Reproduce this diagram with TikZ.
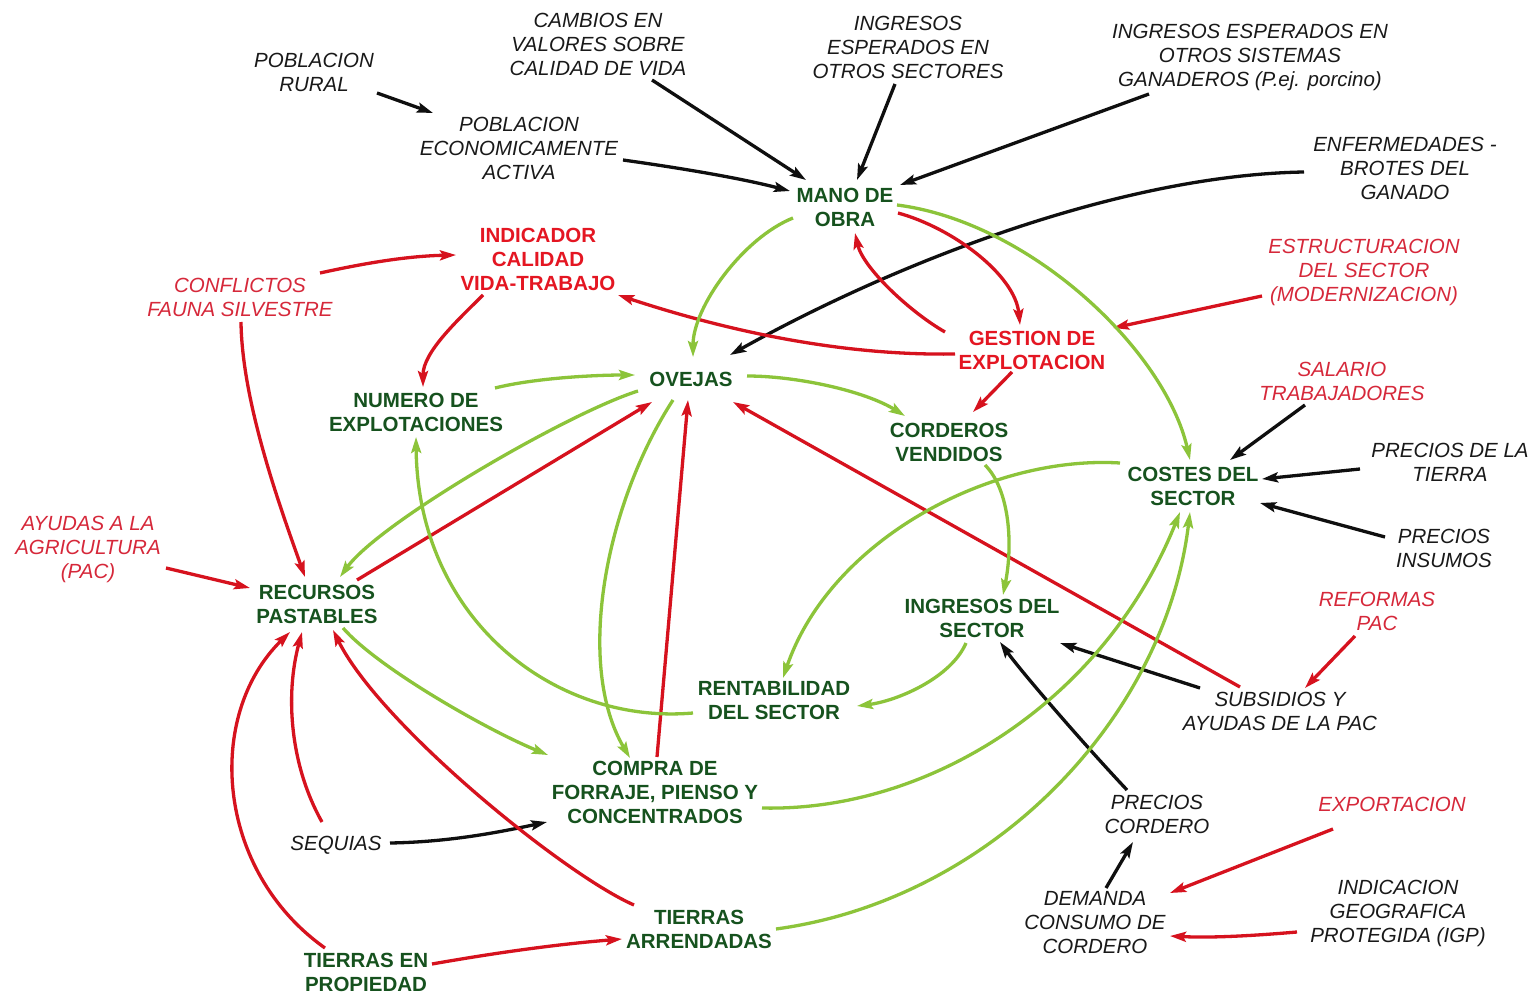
\documentclass[tikz,border=0pt]{standalone}
\usepackage{fontspec}
\setmainfont{Liberation Sans}
\usetikzlibrary{arrows.meta}

\definecolor{nodegreen}{RGB}{22,82,30}
\definecolor{nodered}{RGB}{228,22,34}
\definecolor{labelred}{RGB}{214,40,58}
\definecolor{labelblack}{RGB}{25,25,25}
\definecolor{linegreen}{RGB}{140,196,58}
\definecolor{linered}{RGB}{214,18,30}
\definecolor{lineblack}{RGB}{15,15,15}

% point at an offset from a node centre
\newcommand\nd[3]{([shift={(#2,#3)}]#1.center)}

\tikzset{
  lbl/.style={inner sep=0pt, align=center},
  gbold/.style={lbl, text=nodegreen, font=\fontsize{20.5}{24}\selectfont\bfseries},
  rbold/.style={lbl, text=nodered, font=\fontsize{20.5}{24}\selectfont\bfseries},
  kital/.style={lbl, text=labelblack, font=\fontsize{20.5}{24}\selectfont\itshape},
  rital/.style={lbl, text=labelred, font=\fontsize{20.5}{24}\selectfont\itshape},
  link/.style={line width=3.3pt, -{Stealth[length=16pt,width=10pt,inset=3pt]}},
  blk/.style={link, draw=lineblack},
  red/.style={link, draw=linered},
  grn/.style={link, draw=linegreen},
}

\begin{document}
\begin{tikzpicture}[x=1pt,y=-1pt]
\fill[white] (0,0) rectangle (1535,995);
\useasboundingbox (0,0) rectangle (1535,995);

% ---------- variables ----------
\node[kital] (prural)   at (314,72)   {POBLACION\\RURAL};
\node[kital] (cambios)  at (598,44)   {CAMBIOS EN\\VALORES SOBRE\\CALIDAD DE VIDA};
\node[kital] (ingsec)   at (908,47)   {INGRESOS\\ESPERADOS EN\\OTROS SECTORES};
\node[kital] (ingsis)   at (1250,57)  {INGRESOS ESPERADOS EN\\OTROS SISTEMAS\\GANADEROS (P.ej. porcino)};
\node[kital] (pea)      at (519,148)  {POBLACION\\ECONOMICAMENTE\\ACTIVA};
\node[kital] (enf)      at (1405,168) {ENFERMEDADES -\\BROTES DEL\\GANADO};
\node[gbold] (mano)     at (845,207)  {MANO DE\\OBRA};
\node[rbold] (indic)    at (538,259)  {INDICADOR\\CALIDAD\\VIDA-TRABAJO};
\node[rital] (confl)    at (240,297)  {CONFLICTOS\\FAUNA SILVESTRE};
\node[rital] (estr)     at (1364,272) {ESTRUCTURACION\\DEL SECTOR\\(MODERNIZACION)};
\node[rbold] (gest)     at (1032,350) {GESTION DE\\EXPLOTACION};
\node[gbold] (numero)   at (416,412)  {NUMERO DE\\EXPLOTACIONES};
\node[gbold] (ovejas)   at (691,379)  {OVEJAS};
\node[gbold] (cord)     at (949,442)  {CORDEROS\\VENDIDOS};
\node[rital] (salario)  at (1342,381) {SALARIO\\TRABAJADORES};
\node[gbold] (costes)   at (1193,486) {COSTES DEL\\SECTOR};
\node[kital] (ptierra)  at (1450,462) {PRECIOS DE LA\\TIERRA};
\node[kital] (pinsumos) at (1444,548) {PRECIOS\\INSUMOS};
\node[rital] (ayudas)   at (88,549)   {AYUDAS A LA\\AGRICULTURA\\(PAC)};
\node[gbold] (recursos) at (317,604)  {RECURSOS\\PASTABLES};
\node[gbold] (ingdel)   at (982,618)  {INGRESOS DEL\\SECTOR};
\node[rital] (reformas) at (1377,611) {REFORMAS\\PAC};
\node[gbold] (rentab)   at (774,701)  {RENTABILIDAD\\DEL SECTOR};
\node[kital] (subs)     at (1280,711) {SUBSIDIOS Y\\AYUDAS DE LA PAC};
\node[gbold] (compra)   at (655,792)  {COMPRA DE\\FORRAJE, PIENSO Y\\CONCENTRADOS};
\node[kital] (pcord)    at (1157,814) {PRECIOS\\CORDERO};
\node[rital] (export)   at (1392,804) {EXPORTACION};
\node[kital] (sequias)  at (336,845)  {SEQUIAS};
\node[kital] (demanda)  at (1095,923) {DEMANDA\\CONSUMO DE\\CORDERO};
\node[kital] (igp)      at (1398,913) {INDICACION\\GEOGRAFICA\\PROTEGIDA (IGP)};
\node[gbold] (tarr)     at (699,929)  {TIERRAS\\ARRENDADAS};
\node[gbold] (tprop)    at (366,972)  {TIERRAS EN\\PROPIEDAD};

% ---------- black influences ----------
\draw[blk] \nd{prural}{63}{21} -- \nd{pea}{-86}{-35};
\draw[blk] \nd{cambios}{54}{36} -- \nd{mano}{-39}{-27};
\draw[blk] \nd{pea}{104}{12} .. controls (680,168) and (740,178) .. \nd{mano}{-55}{-16};
\draw[blk] \nd{ingsec}{-13}{37} -- \nd{mano}{12}{-27};
\draw[blk] \nd{ingsis}{-101}{37} -- \nd{mano}{55}{-22};
\draw[blk] \nd{enf}{-101}{4} .. controls (1124,175) and (900,260) .. \nd{ovejas}{39}{-24};
\draw[blk] \nd{salario}{-37}{24} -- \nd{costes}{37}{-26};
\draw[blk] \nd{ptierra}{-90}{7} -- \nd{costes}{69}{-7};
\draw[blk] \nd{pinsumos}{-59}{-11} -- \nd{costes}{67}{17};
\draw[blk] \nd{subs}{-80}{-23} -- \nd{ingdel}{78}{25};
\draw[blk] \nd{pcord}{-30}{-24} .. controls (1080,740) and (1020,670) .. \nd{ingdel}{18}{24};
\draw[blk] \nd{demanda}{11}{-35} -- \nd{pcord}{-24}{28};
\draw[blk] \nd{sequias}{54}{-2} .. controls (450,842) and (500,832) .. \nd{compra}{-108}{30};

% ---------- red influences ----------
\draw[red] \nd{confl}{80}{-24} .. controls (370,262) and (410,256) .. \nd{indic}{-82}{-4};
\draw[red] \nd{confl}{1}{25} .. controls (242,402) and (280,507) .. \nd{recursos}{-12}{-27};
\draw[red] \nd{indic}{-55}{36} .. controls (458,320) and (423,352) .. \nd{numero}{7}{-25};
\draw[red] \nd{gest}{-77}{4} .. controls (835,356) and (718,328) .. \nd{indic}{80}{36};
\draw[red] \nd{gest}{-87}{-18} .. controls (910,312) and (863,268) .. \nd{mano}{10}{26};
\draw[red] \nd{mano}{53}{6} .. controls (953,228) and (1015,275) .. \nd{gest}{-12}{-25};
\draw[red] \nd{gest}{-20}{22} -- \nd{cord}{24}{-30};
\draw[red] \nd{estr}{-102}{24} -- \nd{gest}{81}{-22};
\draw[red] \nd{ayudas}{78}{19} -- \nd{recursos}{-67}{-16};
\draw[red] \nd{recursos}{40}{-24} -- \nd{ovejas}{-39}{23};
\draw[red] \nd{compra}{2}{-35} -- \nd{ovejas}{-3}{21};
\draw[red] \nd{subs}{-40}{-24} -- \nd{ovejas}{42}{23};
\draw[red] \nd{reformas}{-22}{25} -- \nd{subs}{25}{-23};
\draw[red] \nd{sequias}{-14}{-23} .. controls (290,765) and (285,695) .. \nd{recursos}{-15}{28};
\draw[red] \nd{tprop}{-41}{-24} .. controls (215,870) and (205,715) .. \nd{recursos}{-27}{28};
\draw[red] \nd{tarr}{-65}{-24} .. controls (565,875) and (380,725) .. \nd{recursos}{16}{26};
\draw[red] \nd{tprop}{66}{-8} .. controls (500,952) and (560,944) .. \nd{tarr}{-77}{10};
\draw[red] \nd{export}{-59}{25} -- \nd{demanda}{75}{-30};
\draw[red] \nd{igp}{-101}{19} .. controls (1250,936) and (1210,938) .. \nd{demanda}{75}{13};

% ---------- green influences ----------
\draw[grn] \nd{mano}{-52}{11} .. controls (743,238) and (693,307) .. \nd{ovejas}{2}{-22};
\draw[grn] \nd{mano}{52}{-2} .. controls (1030,222) and (1165,350) .. \nd{costes}{-3}{-26};
\draw[grn] \nd{numero}{79}{-24} .. controls (535,378) and (595,375) .. \nd{ovejas}{-56}{-4};
\draw[grn] \nd{ovejas}{56}{-3} .. controls (797,376) and (865,391) .. \nd{cord}{-44}{-26};
\draw[grn] \nd{ovejas}{-53}{12} .. controls (568,413) and (380,522) .. \nd{recursos}{23}{-27};
\draw[grn] \nd{ovejas}{-18}{21} .. controls (605,505) and (575,665) .. \nd{compra}{-25}{-34};
\draw[grn] \nd{rentab}{-81}{12} .. controls (555,725) and (418,620) .. \nd{numero}{0}{25};
\draw[grn] \nd{cord}{36}{23} .. controls (1010,490) and (1013,545) .. \nd{ingdel}{21}{-23};
\draw[grn] \nd{costes}{-73}{-23} .. controls (990,455) and (830,540) .. \nd{rentab}{9}{-23};
\draw[grn] \nd{ingdel}{-16}{25} .. controls (951,678) and (897,701) .. \nd{rentab}{83}{5};
\draw[grn] \nd{recursos}{26}{24} .. controls (378,668) and (487,730) .. \nd{compra}{-107}{-37};
\draw[grn] \nd{compra}{107}{16} .. controls (930,812) and (1105,700) .. \nd{costes}{-13}{26};
\draw[grn] \nd{tarr}{77}{0} .. controls (990,900) and (1165,720) .. \nd{costes}{-3}{26};
\end{tikzpicture}
\end{document}
